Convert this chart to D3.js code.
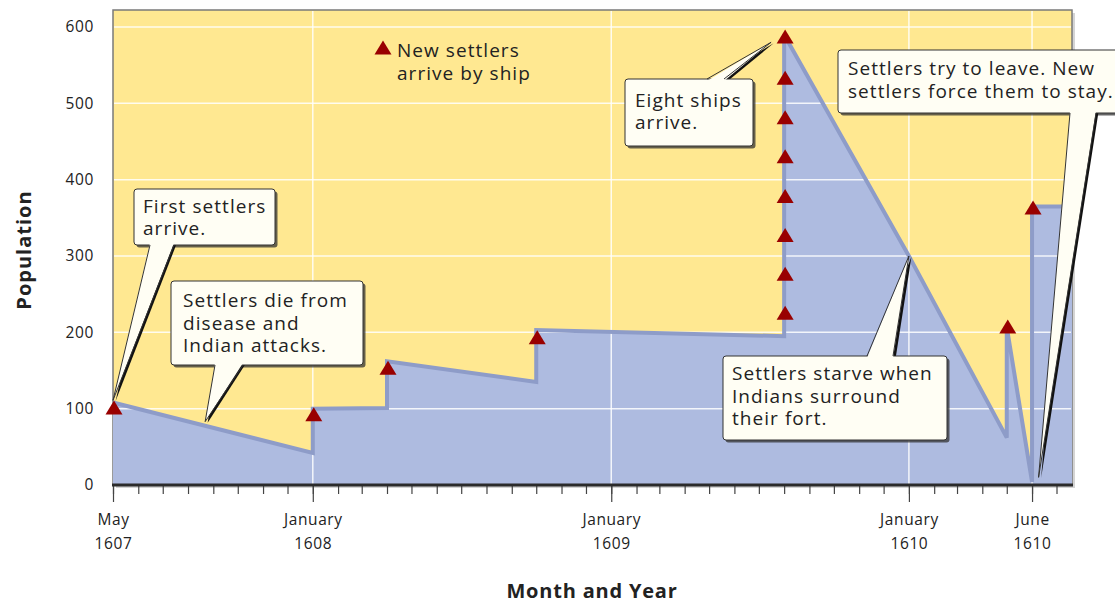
<!DOCTYPE html>
<html>
<head>
<meta charset="utf-8">
<script src="https://cdn.jsdelivr.net/npm/d3@7"></script>
<style>
  body { margin: 0; background: #fff; }
  svg text { font-family: "Open Sans", "Noto Sans", sans-serif; fill: #222; }
</style>
</head>
<body>
<svg width="1115" height="605"></svg>
<script>
// population line (two entries at the same date make a vertical step)
const popDates = ["1607-05-01", "1608-01-01", "1608-01-01", "1608-04-01", "1608-04-01",
  "1608-10-01", "1608-10-01", "1609-08-01", "1609-08-01", "1610-01-01",
  "1610-05-01", "1610-05-01", "1610-06-01", "1610-06-01", "1610-07-20"];
const popValues = [108, 42, 100, 101, 162, 135, 203, 195, 590, 300, 62, 207, 4, 365, 365];

// ship arrivals (red triangles)
const shipDates = ["1607-05-01", "1608-01-01", "1608-04-01", "1608-10-01",
  "1609-08-01", "1609-08-01", "1609-08-01", "1609-08-01",
  "1609-08-01", "1609-08-01", "1609-08-01", "1609-08-01",
  "1610-05-01", "1610-06-01"];
const shipValues = [101, 92, 153, 193, 225, 276, 327, 378, 430, 481, 533, 587, 207, 363];

const yTicks = [0, 100, 200, 300, 400, 500, 600];
const majorDates = ["1607-05-01", "1608-01-01", "1609-01-01", "1610-01-01", "1610-06-01"];
const majorMonths = ["May", "January", "January", "January", "June"];
const majorYears = ["1607", "1608", "1609", "1610", "1610"];

const notes = [
  { lines: ["First settlers", "arrive."], date: "1607-05-01", value: 111 },
  { lines: ["Settlers die from", "disease and", "Indian attacks."], date: "1607-08-22", value: 83 },
  { lines: ["Eight ships", "arrive."], date: "1609-07-16", value: 580 },
  { lines: ["Settlers try to leave. New", "settlers force them to stay."], date: "1610-06-09", value: 10 },
  { lines: ["Settlers starve when", "Indians surround", "their fort."], date: "1610-01-01", value: 300 }
];
// callout boxes: [x, y, w, h], wedge base [x1, x2] and side, text offsets
const noteBoxes = [
  { box: [134, 189, 141, 56], side: "bottom", base: [150, 174], tx: 9, ty: 24, lh: 22 },
  { box: [171, 281, 192, 84], side: "bottom", base: [215, 243], tx: 12, ty: 26, lh: 22.5 },
  { box: [625, 79, 128, 67], side: "top", base: [707, 724], tx: 10, ty: 28, lh: 22 },
  { box: [838, 50, 290, 63], side: "bottom", base: [1070, 1096], tx: 10, ty: 25, lh: 23 },
  { box: [723, 356, 224, 84], side: "top", base: [867, 893], tx: 9, ty: 24, lh: 22.5 }
];

const parse = d3.timeParse("%Y-%m-%d");
const svg = d3.select("svg");
const plotL = 113, plotR = 1072, plotT = 10, plotB = 485;

const x = d3.scaleTime()
  .domain([parse("1607-05-01"), parse("1610-07-20")])
  .range([plotL, plotR]);
const y = d3.scaleLinear()
  .domain([0, 622.3])
  .range([plotB, plotT]);

const pop = popDates.map((d, i) => ({ date: parse(d), value: popValues[i] }));
const ships = shipDates.map((d, i) => ({ date: parse(d), value: shipValues[i] }));

// frame shadow + background
svg.append("rect")
  .attr("x", plotL + 3).attr("y", plotT + 3)
  .attr("width", plotR - plotL).attr("height", plotB - plotT)
  .attr("fill", "#d4d4d4");
svg.append("rect")
  .attr("x", plotL).attr("y", plotT)
  .attr("width", plotR - plotL).attr("height", plotB - plotT)
  .attr("fill", "#ffe891")
  .attr("stroke", "#7a7a7a")
  .attr("stroke-width", 1.5);

// area
const area = d3.area()
  .x(d => x(d.date))
  .y0(plotB)
  .y1(d => y(d.value));
svg.append("path")
  .datum(pop)
  .attr("d", area)
  .attr("fill", "#aebbe0");

// gridlines
svg.append("g")
  .selectAll("line")
  .data(yTicks.filter(d => d > 0))
  .join("line")
  .attr("x1", plotL + 1).attr("x2", plotR - 1)
  .attr("y1", d => y(d)).attr("y2", d => y(d))
  .attr("stroke", "#fff")
  .attr("stroke-opacity", 0.85)
  .attr("stroke-width", 1.5);
svg.append("g")
  .selectAll("line")
  .data(majorDates.slice(1).map(parse))
  .join("line")
  .attr("x1", d => x(d)).attr("x2", d => x(d))
  .attr("y1", plotT + 1).attr("y2", plotB)
  .attr("stroke", "#fff")
  .attr("stroke-opacity", 0.85)
  .attr("stroke-width", 1.5);

// population line
const line = d3.line()
  .x(d => x(d.date))
  .y(d => y(d.value));
svg.append("path")
  .datum(pop)
  .attr("d", line)
  .attr("fill", "none")
  .attr("stroke", "#8e9cc8")
  .attr("stroke-width", 4)
  .attr("stroke-linejoin", "miter")
  .attr("stroke-miterlimit", 3);

// x axis: minor month ticks
const xMinor = d3.axisBottom(x)
  .tickValues(d3.timeMonth.range(parse("1607-05-01"), parse("1610-07-02")))
  .tickSize(9)
  .tickFormat("");
svg.append("g")
  .attr("transform", `translate(0,${plotB})`)
  .call(xMinor)
  .call(g => g.select(".domain").remove())
  .call(g => g.selectAll(".tick line").attr("stroke", "#444").attr("stroke-width", 1.2));

const xMajor = d3.axisBottom(x)
  .tickValues(majorDates.map(parse))
  .tickSize(17)
  .tickFormat("");
const gx = svg.append("g")
  .attr("transform", `translate(0,${plotB})`)
  .call(xMajor)
  .call(g => g.select(".domain").remove())
  .call(g => g.selectAll(".tick line").attr("stroke", "#444").attr("stroke-width", 1.2));
gx.selectAll(".tick").each(function(d, i) {
  const t = d3.select(this).append("text")
    .attr("text-anchor", "middle")
    .style("font-size", "15.5px")
    .style("letter-spacing", "0.6px")
    .attr("fill", "#222");
  t.append("tspan").attr("x", 0).attr("y", 40).text(majorMonths[i]);
  t.append("tspan").attr("x", 0).attr("y", 64).text(majorYears[i]);
});

// axis baseline
svg.append("line")
  .attr("x1", plotL - 1).attr("x2", plotR + 1)
  .attr("y1", plotB).attr("y2", plotB)
  .attr("stroke", "#2b2b2b")
  .attr("stroke-width", 3);

// y axis
svg.append("g")
  .attr("transform", `translate(${plotL},0)`)
  .call(d3.axisLeft(y).tickValues(yTicks).tickSize(0).tickPadding(19))
  .call(g => g.select(".domain").remove())
  .call(g => g.selectAll("text").style("font-size", "15.5px")
    .style("letter-spacing", "0.6px").attr("fill", "#222"));

// triangles
const tri = "M0,-7.5L8.5,6.5L-8.5,6.5Z";
svg.append("g")
  .selectAll("path")
  .data(ships)
  .join("path")
  .attr("d", tri)
  .attr("transform", d => `translate(${x(d.date) + 1},${y(d.value)})`)
  .attr("fill", "#990000");

// legend
svg.append("path")
  .attr("d", tri)
  .attr("transform", "translate(383,48)")
  .attr("fill", "#990000");
const leg = svg.append("text").style("font-size", "19px").style("letter-spacing", "1.05px");
leg.append("tspan").attr("x", 397).attr("y", 57).text("New settlers");
leg.append("tspan").attr("x", 397).attr("y", 80).text("arrive by ship");

// callouts
notes.forEach((n, i) => {
  const b = noteBoxes[i];
  const [bx, by, bw, bh] = b.box;
  const tip = [x(parse(n.date)), y(n.value)];
  const edgeY = b.side === "bottom" ? by + bh : by;
  const inY = b.side === "bottom" ? edgeY - 2 : edgeY + 2;
  const wedge = [[b.base[0], inY], tip, [b.base[1], inY]];
  const g = svg.append("g");

  // shadow
  g.append("rect")
    .attr("x", bx + 2.5).attr("y", by + 2.5)
    .attr("width", bw).attr("height", bh).attr("rx", 3)
    .attr("fill", "#333").attr("opacity", 0.75);
  g.append("path")
    .attr("d", d3.line()(wedge.map(p => [p[0] + 2.5, p[1] + 1])) + "Z")
    .attr("fill", "#111");

  g.append("rect")
    .attr("x", bx).attr("y", by)
    .attr("width", bw).attr("height", bh).attr("rx", 3)
    .attr("fill", "#fffef4")
    .attr("stroke", "#333").attr("stroke-width", 1);
  g.append("path")
    .attr("d", d3.line()(wedge) + "Z")
    .attr("fill", "#fffef4");
  g.append("path")
    .attr("d", d3.line()([[b.base[0], edgeY], tip, [b.base[1], edgeY]]))
    .attr("fill", "none")
    .attr("stroke", "#333").attr("stroke-width", 1);

  const t = g.append("text").style("font-size", "19px").style("letter-spacing", "1.05px");
  n.lines.forEach((l, j) => {
    t.append("tspan").attr("x", bx + b.tx).attr("y", by + b.ty + j * b.lh).text(l);
  });
});

// axis titles
svg.append("text")
  .attr("transform", "translate(31,250) rotate(-90)")
  .attr("text-anchor", "middle")
  .style("font-size", "20px")
  .style("font-weight", "bold")
  .style("letter-spacing", "1px")
  .text("Population");
svg.append("text")
  .attr("x", 592).attr("y", 598)
  .attr("text-anchor", "middle")
  .style("font-size", "20px")
  .style("font-weight", "bold")
  .style("letter-spacing", "0.8px")
  .text("Month and Year");
</script>
</body>
</html>
